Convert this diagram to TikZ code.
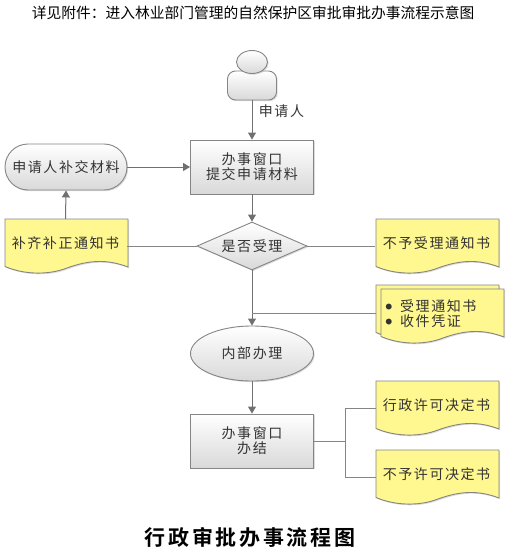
\documentclass[tikz,border=0pt]{standalone}
\usepackage{fontspec}
\setmainfont{Noto Sans CJK SC}
\newfontfamily\lbl[LetterSpace=11]{Noto Sans CJK SC}
\newfontfamily\ttl[LetterSpace=13,BoldFont={Noto Sans CJK SC Bold}]{Noto Sans CJK SC}
\usetikzlibrary{arrows.meta,shapes.geometric,shapes.misc,shadows}
\definecolor{edge}{HTML}{858585}
\definecolor{conn}{HTML}{707070}
\definecolor{docfill}{HTML}{FFF78F}
\definecolor{ink}{HTML}{333333}
\tikzset{
  x=1pt,y=-1pt,
  soft/.style={drop shadow={shadow xshift=1.2pt,shadow yshift=-1.2pt,fill=gray!60,opacity=.45}},
  procbox/.style={draw=edge,line width=.9pt,soft,top color=white,bottom color=black!15,inner sep=0pt,text=ink,align=center,font=\lbl\fontsize{14}{15}\selectfont},
  docbody/.style={draw=edge,line width=.9pt,fill=docfill,soft},
  doctext/.style={inner sep=0pt,minimum width=123pt,minimum height=48pt,text=ink,font=\lbl\fontsize{14}{15}\selectfont},
  flow/.style={draw=conn,line width=1pt,-{Triangle[length=7pt,width=8pt]}},
  link/.style={draw=edge,line width=1pt},
}
\newcommand{\docoutline}[2]{%
  \path[docbody,shift={(#1,#2)}] (0,0) -- (123,0) -- (123,48)
    .. controls (102,40) and (84,41) .. (62,49)
    .. controls (44,56) and (20,56) .. (0,47.5) -- cycle;}
\newcommand{\docshape}[4]{%
  \docoutline{#2}{#3}
  \node[doctext] (#1) at (#2+60.5,#3+24) {#4};}
\newcommand{\bulletmark}{\raisebox{2.5pt}{\fontsize{6.5}{7}\selectfont ●}\hspace{8pt}}
\begin{document}
\begin{tikzpicture}
\useasboundingbox (0,0) rectangle (512,559);
\node[font=\fontsize{14.75}{16}\selectfont,inner sep=0pt] (caption) at (253,13) {详见附件：进入林业部门管理的自然保护区审批审批办事流程示意图};

% person
\node[procbox,rounded corners=8pt,minimum width=49pt,minimum height=29pt] (body) at (252,85.5) {};
\node[procbox,ellipse,minimum width=31pt,minimum height=23pt] (head) at (252,62) {};
\node[text=ink,inner sep=0pt,font=\lbl\fontsize{14}{15}\selectfont] (who) at (281.5,111) {申请人};

\node[procbox,minimum width=123pt,minimum height=54pt] (submit) at (252,167) {办事窗口\\提交申请材料};
\node[procbox,rounded rectangle,minimum width=122pt,minimum height=46pt] (resub) at (66,167) {申请人补交材料};
\node[procbox,diamond,aspect=2.3,minimum width=110pt,minimum height=48pt] (check) at (252,246) {是否受理};
\node[procbox,ellipse,minimum width=123pt,minimum height=55pt] (inner) at (252,353.5) {内部办理};
\node[procbox,minimum width=123pt,minimum height=54pt] (finish) at (252,441) {办事窗口\\办结};

\docshape{patch}{5}{219}{补齐补正通知书}
\docshape{refuse}{376}{219}{不予受理通知书}
\docoutline{376}{285}
\docshape{accept}{381}{289}{}
\node[inner sep=0pt,text=ink,align=left,anchor=west,font=\lbl\fontsize{14}{15}\selectfont] (acceptlist) at (385.5,314) {\bulletmark 受理通知书\\\bulletmark 收件凭证};
\docshape{grant}{376}{381}{行政许可决定书}
\docshape{deny}{376}{450}{不予许可决定书}

\node[font=\ttl\bfseries\fontsize{21}{23}\selectfont,inner sep=0pt] (title) at (250,537) {行政审批办事流程图};

\draw[flow] (body.south) -- (submit.north);
\draw[flow] (submit.south) -- (check.north);
\draw[flow] (resub.east) -- (submit.west);
\draw[flow] (patch.north) -- (resub.south);
\draw[link] (check.west) -- (check.west -| patch.east);
\draw[link] (check.east) -- (check.east -| refuse.west);
\draw[flow] (check.south) -- (inner.north);
\coordinate (acceptjoin) at (252,313);
\coordinate (acceptin) at (376,313);
\draw[link] (acceptjoin) -- (acceptin);
\draw[flow] (inner.south) -- (finish.north);
\coordinate (fork) at (345,441);
\coordinate (grantin) at (376,408);
\coordinate (denyin) at (376,477);
\draw[link] (finish.east) -- (fork);
\draw[link] (fork) |- (grantin);
\draw[link] (fork) |- (denyin);
\end{tikzpicture}
\end{document}
